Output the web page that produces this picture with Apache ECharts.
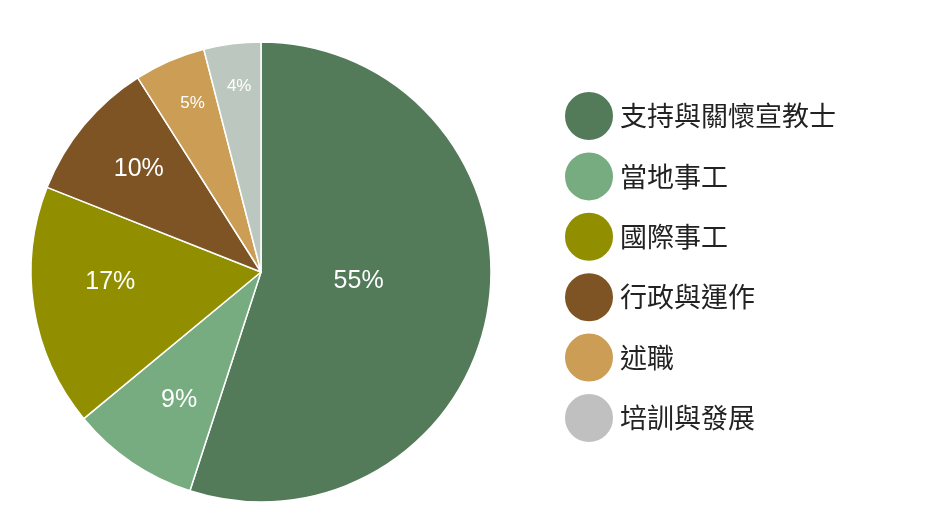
<!DOCTYPE html>
<html><head><meta charset="utf-8">
<script src="https://cdn.jsdelivr.net/npm/echarts@6/dist/echarts.min.js"></script>
<style>html,body{margin:0;padding:0;background:#fff}#c{width:933px;height:525px}</style>
</head><body><div id="c"></div>
<script>
const categories = ['支持與關懷宣教士','當地事工','國際事工','行政與運作','述職','培訓與發展'];
const values = [55, 9, 17, 10, 5, 4];
const sliceColors = ['#537B5A','#76AC80','#918F00','#7E5424','#CB9D55','#BCC8BF'];
const legendColors = ['#537B5A','#76AC80','#918F00','#7E5424','#CB9D55','#C0C0C0'];
const labelSizes = [25, 25, 25, 25, 17, 17];
const labelRadius = [98, 152, 151, 160, 182, 187];
const labelAngleAdjust = [-3.8, -1.6, 5.2, 0.6, 1.3, 0.5];
const CX = 261, CY = 272;

const chart = echarts.init(document.getElementById('c'));
chart.setOption({
  backgroundColor: '#fff',
  animation: false,
  legend: {
    orient: 'vertical',
    left: 558, top: 85,
    icon: 'circle',
    itemWidth: 50, itemHeight: 50, itemGap: 8.4,
    textStyle: {fontSize: 27, color: '#222', fontFamily: '"Noto Sans CJK TC", sans-serif', padding: [0,0,0,1]},
    selectedMode: false,
    data: categories.map((n,i)=>({name:n, itemStyle:{color:legendColors[i]}}))
  },
  series: [{
    type: 'pie',
    center: [CX, CY],
    radius: [0, 230],
    startAngle: 90,
    clockwise: true,
    avoidLabelOverlap: false,
    itemStyle: {borderColor: '#fff', borderWidth: 1.5},
    label: {
      show: true, position: 'inside',
      formatter: '{c}%',
      color: '#fff', fontSize: 25,
      fontFamily: '"Liberation Sans", Arial, sans-serif'
    },
    labelLine: {show: false},
    emphasis: {disabled: true},
    labelLayout: function (p) {
      const i = p.dataIndex;
      const r = labelRadius[i];
      const lx = p.labelRect.x + p.labelRect.width / 2;
      const ly = p.labelRect.y + p.labelRect.height / 2;
      const a = Math.atan2(ly - CY, lx - CX) + labelAngleAdjust[i] * Math.PI / 180;
      return {x: CX + r * Math.cos(a), y: CY + r * Math.sin(a), align: 'center', verticalAlign: 'middle'};
    },
    data: categories.map((n,i)=>({name:n, value:values[i], itemStyle:{color:sliceColors[i]}, label:{fontSize:labelSizes[i]}}))
  }]
});
</script></body></html>
